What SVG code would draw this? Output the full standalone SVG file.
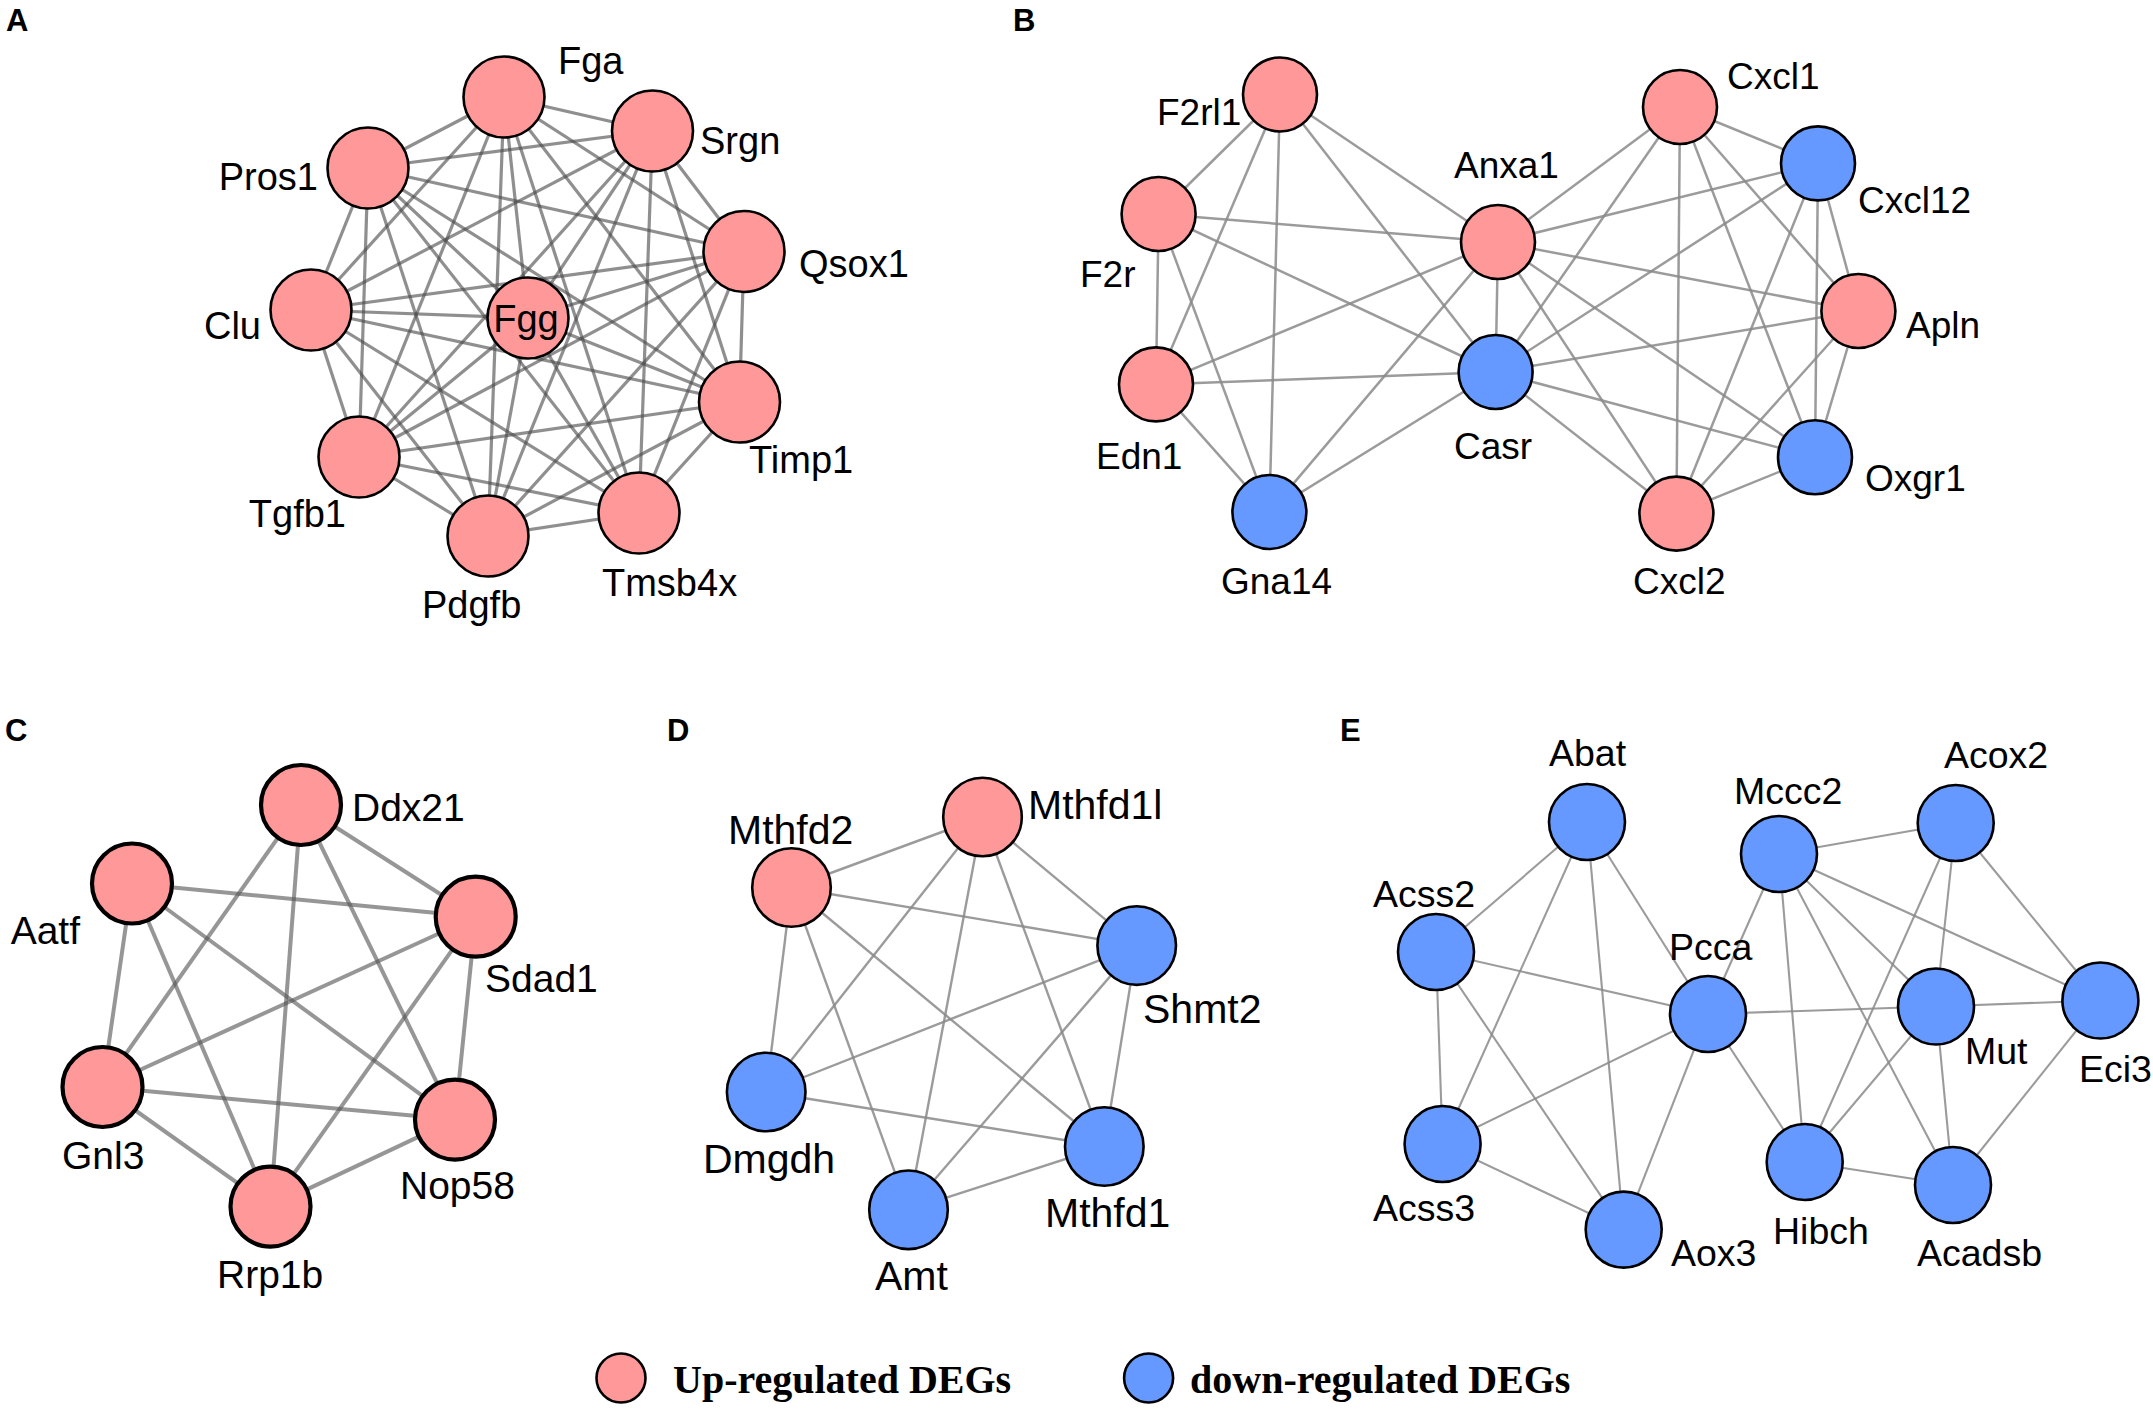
<svg xmlns="http://www.w3.org/2000/svg" width="2153" height="1414" viewBox="0 0 2153 1414">
<style>
.bg{fill:#fff}
.up{fill:#FF9999;stroke:#000;stroke-width:2.6}
.dn{fill:#6699FF;stroke:#000;stroke-width:2.6}
.upc{fill:#FF9999;stroke:#000;stroke-width:4.2}
.ea{stroke:#4a4a4a;stroke-opacity:0.62;stroke-width:3.2}
.eb{stroke:#8a8a8a;stroke-opacity:0.85;stroke-width:2.5}
.ec{stroke:#555;stroke-opacity:0.62;stroke-width:4}
.ed{stroke:#8a8a8a;stroke-opacity:0.85;stroke-width:2.4}
.ee{stroke:#8a8a8a;stroke-opacity:0.85;stroke-width:2.1}
text{font-family:"Liberation Sans",Arial,sans-serif;fill:#000}
.pl{font-size:31px;font-weight:bold}
.la{font-size:38px}
.lb{font-size:37px}
.lc{font-size:39px}
.ld{font-size:41px}
.le{font-size:37.5px}
.lg{font-family:"Liberation Serif","Times New Roman",serif;font-size:40px;font-weight:bold}
</style>
<rect class="bg" x="0" y="0" width="2153" height="1414"/>

<g id="panel-labels">
<text class="pl" x="6" y="31">A</text>
<text class="pl" x="1013" y="31">B</text>
<text class="pl" x="5" y="741">C</text>
<text class="pl" x="667" y="741">D</text>
<text class="pl" x="1340" y="741">E</text>
</g>

<g id="connectors">
<g id="edges-A">
<line class="ea" x1="504" y1="97" x2="652.5" y2="131"/>
<line class="ea" x1="504" y1="97" x2="368" y2="168"/>
<line class="ea" x1="504" y1="97" x2="744" y2="251.5"/>
<line class="ea" x1="504" y1="97" x2="311" y2="310"/>
<line class="ea" x1="504" y1="97" x2="528" y2="318"/>
<line class="ea" x1="504" y1="97" x2="739.5" y2="402"/>
<line class="ea" x1="504" y1="97" x2="359" y2="457"/>
<line class="ea" x1="504" y1="97" x2="488" y2="536"/>
<line class="ea" x1="504" y1="97" x2="639" y2="513"/>
<line class="ea" x1="652.5" y1="131" x2="368" y2="168"/>
<line class="ea" x1="652.5" y1="131" x2="744" y2="251.5"/>
<line class="ea" x1="652.5" y1="131" x2="311" y2="310"/>
<line class="ea" x1="652.5" y1="131" x2="528" y2="318"/>
<line class="ea" x1="652.5" y1="131" x2="739.5" y2="402"/>
<line class="ea" x1="652.5" y1="131" x2="359" y2="457"/>
<line class="ea" x1="652.5" y1="131" x2="488" y2="536"/>
<line class="ea" x1="652.5" y1="131" x2="639" y2="513"/>
<line class="ea" x1="368" y1="168" x2="744" y2="251.5"/>
<line class="ea" x1="368" y1="168" x2="311" y2="310"/>
<line class="ea" x1="368" y1="168" x2="528" y2="318"/>
<line class="ea" x1="368" y1="168" x2="739.5" y2="402"/>
<line class="ea" x1="368" y1="168" x2="359" y2="457"/>
<line class="ea" x1="368" y1="168" x2="488" y2="536"/>
<line class="ea" x1="368" y1="168" x2="639" y2="513"/>
<line class="ea" x1="744" y1="251.5" x2="311" y2="310"/>
<line class="ea" x1="744" y1="251.5" x2="528" y2="318"/>
<line class="ea" x1="744" y1="251.5" x2="739.5" y2="402"/>
<line class="ea" x1="744" y1="251.5" x2="359" y2="457"/>
<line class="ea" x1="744" y1="251.5" x2="488" y2="536"/>
<line class="ea" x1="744" y1="251.5" x2="639" y2="513"/>
<line class="ea" x1="311" y1="310" x2="528" y2="318"/>
<line class="ea" x1="311" y1="310" x2="739.5" y2="402"/>
<line class="ea" x1="311" y1="310" x2="359" y2="457"/>
<line class="ea" x1="311" y1="310" x2="488" y2="536"/>
<line class="ea" x1="311" y1="310" x2="639" y2="513"/>
<line class="ea" x1="528" y1="318" x2="739.5" y2="402"/>
<line class="ea" x1="528" y1="318" x2="359" y2="457"/>
<line class="ea" x1="528" y1="318" x2="488" y2="536"/>
<line class="ea" x1="528" y1="318" x2="639" y2="513"/>
<line class="ea" x1="739.5" y1="402" x2="359" y2="457"/>
<line class="ea" x1="739.5" y1="402" x2="488" y2="536"/>
<line class="ea" x1="739.5" y1="402" x2="639" y2="513"/>
<line class="ea" x1="359" y1="457" x2="488" y2="536"/>
<line class="ea" x1="359" y1="457" x2="639" y2="513"/>
<line class="ea" x1="488" y1="536" x2="639" y2="513"/>
</g>
<g id="edges-B">
<line class="eb" x1="1280" y1="94.5" x2="1158.6" y2="214"/>
<line class="eb" x1="1280" y1="94.5" x2="1156" y2="384.4"/>
<line class="eb" x1="1280" y1="94.5" x2="1269.4" y2="512"/>
<line class="eb" x1="1280" y1="94.5" x2="1498" y2="242"/>
<line class="eb" x1="1280" y1="94.5" x2="1495.6" y2="372"/>
<line class="eb" x1="1158.6" y1="214" x2="1498" y2="242"/>
<line class="eb" x1="1158.6" y1="214" x2="1495.6" y2="372"/>
<line class="eb" x1="1158.6" y1="214" x2="1156" y2="384.4"/>
<line class="eb" x1="1158.6" y1="214" x2="1269.4" y2="512"/>
<line class="eb" x1="1156" y1="384.4" x2="1495.6" y2="372"/>
<line class="eb" x1="1156" y1="384.4" x2="1498" y2="242"/>
<line class="eb" x1="1156" y1="384.4" x2="1269.4" y2="512"/>
<line class="eb" x1="1269.4" y1="512" x2="1498" y2="242"/>
<line class="eb" x1="1269.4" y1="512" x2="1495.6" y2="372"/>
<line class="eb" x1="1498" y1="242" x2="1495.6" y2="372"/>
<line class="eb" x1="1498" y1="242" x2="1680" y2="107"/>
<line class="eb" x1="1498" y1="242" x2="1818" y2="163.4"/>
<line class="eb" x1="1498" y1="242" x2="1858.4" y2="311"/>
<line class="eb" x1="1498" y1="242" x2="1815" y2="457.3"/>
<line class="eb" x1="1498" y1="242" x2="1676.4" y2="513.6"/>
<line class="eb" x1="1495.6" y1="372" x2="1680" y2="107"/>
<line class="eb" x1="1495.6" y1="372" x2="1818" y2="163.4"/>
<line class="eb" x1="1495.6" y1="372" x2="1858.4" y2="311"/>
<line class="eb" x1="1495.6" y1="372" x2="1815" y2="457.3"/>
<line class="eb" x1="1495.6" y1="372" x2="1676.4" y2="513.6"/>
<line class="eb" x1="1680" y1="107" x2="1818" y2="163.4"/>
<line class="eb" x1="1680" y1="107" x2="1676.4" y2="513.6"/>
<line class="eb" x1="1680" y1="107" x2="1815" y2="457.3"/>
<line class="eb" x1="1680" y1="107" x2="1858.4" y2="311"/>
<line class="eb" x1="1818" y1="163.4" x2="1676.4" y2="513.6"/>
<line class="eb" x1="1818" y1="163.4" x2="1815" y2="457.3"/>
<line class="eb" x1="1818" y1="163.4" x2="1858.4" y2="311"/>
<line class="eb" x1="1858.4" y1="311" x2="1815" y2="457.3"/>
<line class="eb" x1="1858.4" y1="311" x2="1676.4" y2="513.6"/>
<line class="eb" x1="1815" y1="457.3" x2="1676.4" y2="513.6"/>
</g>
<g id="edges-C">
<line class="ec" x1="301" y1="805" x2="475.7" y2="916.7"/>
<line class="ec" x1="301" y1="805" x2="102.5" y2="1087"/>
<line class="ec" x1="301" y1="805" x2="455" y2="1119.6"/>
<line class="ec" x1="301" y1="805" x2="270.5" y2="1206.6"/>
<line class="ec" x1="132" y1="883.5" x2="475.7" y2="916.7"/>
<line class="ec" x1="132" y1="883.5" x2="102.5" y2="1087"/>
<line class="ec" x1="132" y1="883.5" x2="455" y2="1119.6"/>
<line class="ec" x1="132" y1="883.5" x2="270.5" y2="1206.6"/>
<line class="ec" x1="475.7" y1="916.7" x2="102.5" y2="1087"/>
<line class="ec" x1="475.7" y1="916.7" x2="455" y2="1119.6"/>
<line class="ec" x1="475.7" y1="916.7" x2="270.5" y2="1206.6"/>
<line class="ec" x1="102.5" y1="1087" x2="455" y2="1119.6"/>
<line class="ec" x1="102.5" y1="1087" x2="270.5" y2="1206.6"/>
<line class="ec" x1="455" y1="1119.6" x2="270.5" y2="1206.6"/>
</g>
<g id="edges-D">
<line class="ed" x1="791.5" y1="887.5" x2="982.5" y2="817"/>
<line class="ed" x1="791.5" y1="887.5" x2="1136.7" y2="945.6"/>
<line class="ed" x1="791.5" y1="887.5" x2="766.2" y2="1092"/>
<line class="ed" x1="791.5" y1="887.5" x2="908.5" y2="1209.8"/>
<line class="ed" x1="791.5" y1="887.5" x2="1104.3" y2="1146.5"/>
<line class="ed" x1="982.5" y1="817" x2="1136.7" y2="945.6"/>
<line class="ed" x1="982.5" y1="817" x2="766.2" y2="1092"/>
<line class="ed" x1="982.5" y1="817" x2="908.5" y2="1209.8"/>
<line class="ed" x1="982.5" y1="817" x2="1104.3" y2="1146.5"/>
<line class="ed" x1="1136.7" y1="945.6" x2="766.2" y2="1092"/>
<line class="ed" x1="1136.7" y1="945.6" x2="908.5" y2="1209.8"/>
<line class="ed" x1="1136.7" y1="945.6" x2="1104.3" y2="1146.5"/>
<line class="ed" x1="766.2" y1="1092" x2="1104.3" y2="1146.5"/>
<line class="ed" x1="908.5" y1="1209.8" x2="1104.3" y2="1146.5"/>
</g>
<g id="edges-E">
<line class="ee" x1="1587" y1="822" x2="1436" y2="952"/>
<line class="ee" x1="1587" y1="822" x2="1442.6" y2="1144"/>
<line class="ee" x1="1587" y1="822" x2="1623.7" y2="1229.6"/>
<line class="ee" x1="1587" y1="822" x2="1708" y2="1014"/>
<line class="ee" x1="1436" y1="952" x2="1708" y2="1014"/>
<line class="ee" x1="1436" y1="952" x2="1442.6" y2="1144"/>
<line class="ee" x1="1436" y1="952" x2="1623.7" y2="1229.6"/>
<line class="ee" x1="1442.6" y1="1144" x2="1708" y2="1014"/>
<line class="ee" x1="1442.6" y1="1144" x2="1623.7" y2="1229.6"/>
<line class="ee" x1="1708" y1="1014" x2="1623.7" y2="1229.6"/>
<line class="ee" x1="1708" y1="1014" x2="1779" y2="854"/>
<line class="ee" x1="1708" y1="1014" x2="1936" y2="1006.5"/>
<line class="ee" x1="1708" y1="1014" x2="1804.7" y2="1162"/>
<line class="ee" x1="1779" y1="854" x2="1955.7" y2="823"/>
<line class="ee" x1="1779" y1="854" x2="1804.7" y2="1162"/>
<line class="ee" x1="1779" y1="854" x2="1936" y2="1006.5"/>
<line class="ee" x1="1779" y1="854" x2="1953" y2="1185"/>
<line class="ee" x1="1779" y1="854" x2="2100.4" y2="1000.5"/>
<line class="ee" x1="1955.7" y1="823" x2="1936" y2="1006.5"/>
<line class="ee" x1="1955.7" y1="823" x2="1804.7" y2="1162"/>
<line class="ee" x1="1955.7" y1="823" x2="2100.4" y2="1000.5"/>
<line class="ee" x1="1936" y1="1006.5" x2="2100.4" y2="1000.5"/>
<line class="ee" x1="1936" y1="1006.5" x2="1804.7" y2="1162"/>
<line class="ee" x1="1936" y1="1006.5" x2="1953" y2="1185"/>
<line class="ee" x1="2100.4" y1="1000.5" x2="1953" y2="1185"/>
<line class="ee" x1="1804.7" y1="1162" x2="1953" y2="1185"/>
</g>
</g>

<g id="nodes-A">
<g id="node-Fga"><circle class="up" cx="504" cy="97" r="40.5"/><text class="la" x="558" y="74">Fga</text></g>
<g id="node-Srgn"><circle class="up" cx="652.5" cy="131" r="40.5"/><text class="la" x="700" y="154">Srgn</text></g>
<g id="node-Pros1"><circle class="up" cx="368" cy="168" r="40.5"/><text class="la" x="318" y="190" text-anchor="end">Pros1</text></g>
<g id="node-Qsox1"><circle class="up" cx="744" cy="251.5" r="40.5"/><text class="la" x="799" y="277">Qsox1</text></g>
<g id="node-Clu"><circle class="up" cx="311" cy="310" r="40.5"/><text class="la" x="261" y="339" text-anchor="end">Clu</text></g>
<g id="node-Fgg"><circle class="up" cx="528" cy="318" r="40.5"/><text class="la" x="526" y="332" text-anchor="middle">Fgg</text></g>
<g id="node-Timp1"><circle class="up" cx="739.5" cy="402" r="40.5"/><text class="la" x="749" y="473">Timp1</text></g>
<g id="node-Tgfb1"><circle class="up" cx="359" cy="457" r="40.5"/><text class="la" x="346" y="527" text-anchor="end">Tgfb1</text></g>
<g id="node-Pdgfb"><circle class="up" cx="488" cy="536" r="40.5"/><text class="la" x="422" y="618">Pdgfb</text></g>
<g id="node-Tmsb4x"><circle class="up" cx="639" cy="513" r="40.5"/><text class="la" x="602" y="596">Tmsb4x</text></g>
</g>

<g id="nodes-B">
<g id="node-F2rl1"><circle class="up" cx="1280" cy="94.5" r="37"/><text class="lb" x="1157" y="125">F2rl1</text></g>
<g id="node-F2r"><circle class="up" cx="1158.6" cy="214" r="37"/><text class="lb" x="1080" y="287">F2r</text></g>
<g id="node-Edn1"><circle class="up" cx="1156" cy="384.4" r="37"/><text class="lb" x="1096" y="469">Edn1</text></g>
<g id="node-Gna14"><circle class="dn" cx="1269.4" cy="512" r="37"/><text class="lb" x="1221" y="594">Gna14</text></g>
<g id="node-Anxa1"><circle class="up" cx="1498" cy="242" r="37"/><text class="lb" x="1454" y="178">Anxa1</text></g>
<g id="node-Casr"><circle class="dn" cx="1495.6" cy="372" r="37"/><text class="lb" x="1454" y="459">Casr</text></g>
<g id="node-Cxcl1"><circle class="up" cx="1680" cy="107" r="37"/><text class="lb" x="1727" y="89">Cxcl1</text></g>
<g id="node-Cxcl12"><circle class="dn" cx="1818" cy="163.4" r="37"/><text class="lb" x="1858" y="213">Cxcl12</text></g>
<g id="node-Apln"><circle class="up" cx="1858.4" cy="311" r="37"/><text class="lb" x="1906" y="338">Apln</text></g>
<g id="node-Oxgr1"><circle class="dn" cx="1815" cy="457.3" r="37"/><text class="lb" x="1865" y="491">Oxgr1</text></g>
<g id="node-Cxcl2"><circle class="up" cx="1676.4" cy="513.6" r="37"/><text class="lb" x="1633" y="594">Cxcl2</text></g>
</g>

<g id="nodes-C">
<g id="node-Ddx21"><circle class="upc" cx="301" cy="805" r="40"/><text class="lc" x="352" y="821">Ddx21</text></g>
<g id="node-Aatf"><circle class="upc" cx="132" cy="883.5" r="40"/><text class="lc" x="80" y="944" text-anchor="end">Aatf</text></g>
<g id="node-Sdad1"><circle class="upc" cx="475.7" cy="916.7" r="40"/><text class="lc" x="485" y="992">Sdad1</text></g>
<g id="node-Gnl3"><circle class="upc" cx="102.5" cy="1087" r="40"/><text class="lc" x="62" y="1169">Gnl3</text></g>
<g id="node-Nop58"><circle class="upc" cx="455" cy="1119.6" r="40"/><text class="lc" x="400" y="1199">Nop58</text></g>
<g id="node-Rrp1b"><circle class="upc" cx="270.5" cy="1206.6" r="40"/><text class="lc" x="217" y="1288">Rrp1b</text></g>
</g>

<g id="nodes-D">
<g id="node-Mthfd1l"><circle class="up" cx="982.5" cy="817" r="39.3"/><text class="ld" x="1028" y="819">Mthfd1l</text></g>
<g id="node-Mthfd2"><circle class="up" cx="791.5" cy="887.5" r="39.3"/><text class="ld" x="728" y="844">Mthfd2</text></g>
<g id="node-Shmt2"><circle class="dn" cx="1136.7" cy="945.6" r="39.3"/><text class="ld" x="1143" y="1023">Shmt2</text></g>
<g id="node-Dmgdh"><circle class="dn" cx="766.2" cy="1092" r="39.3"/><text class="ld" x="703" y="1173">Dmgdh</text></g>
<g id="node-Mthfd1"><circle class="dn" cx="1104.3" cy="1146.5" r="39.3"/><text class="ld" x="1045" y="1227">Mthfd1</text></g>
<g id="node-Amt"><circle class="dn" cx="908.5" cy="1209.8" r="39.3"/><text class="ld" x="875" y="1290">Amt</text></g>
</g>

<g id="nodes-E">
<g id="node-Abat"><circle class="dn" cx="1587" cy="822" r="38"/><text class="le" x="1549" y="766">Abat</text></g>
<g id="node-Mccc2"><circle class="dn" cx="1779" cy="854" r="38"/><text class="le" x="1734" y="804">Mccc2</text></g>
<g id="node-Acox2"><circle class="dn" cx="1955.7" cy="823" r="38"/><text class="le" x="1944" y="768">Acox2</text></g>
<g id="node-Acss2"><circle class="dn" cx="1436" cy="952" r="38"/><text class="le" x="1373" y="907">Acss2</text></g>
<g id="node-Pcca"><circle class="dn" cx="1708" cy="1014" r="38"/><text class="le" x="1669" y="960">Pcca</text></g>
<g id="node-Mut"><circle class="dn" cx="1936" cy="1006.5" r="38"/><text class="le" x="1965" y="1064">Mut</text></g>
<g id="node-Eci3"><circle class="dn" cx="2100.4" cy="1000.5" r="38"/><text class="le" x="2079" y="1082">Eci3</text></g>
<g id="node-Acss3"><circle class="dn" cx="1442.6" cy="1144" r="38"/><text class="le" x="1373" y="1221">Acss3</text></g>
<g id="node-Aox3"><circle class="dn" cx="1623.7" cy="1229.6" r="38"/><text class="le" x="1671" y="1266">Aox3</text></g>
<g id="node-Hibch"><circle class="dn" cx="1804.7" cy="1162" r="38"/><text class="le" x="1773" y="1244">Hibch</text></g>
<g id="node-Acadsb"><circle class="dn" cx="1953" cy="1185" r="38"/><text class="le" x="1917" y="1266">Acadsb</text></g>
</g>

<g id="legend">
<g id="legend-up"><circle class="up" cx="621" cy="1378" r="24.5"/><text class="lg" x="673" y="1393">Up-regulated DEGs</text></g>
<g id="legend-down"><circle class="dn" cx="1148.6" cy="1378" r="24.5"/><text class="lg" x="1190" y="1393">down-regulated DEGs</text></g>
</g>
</svg>
